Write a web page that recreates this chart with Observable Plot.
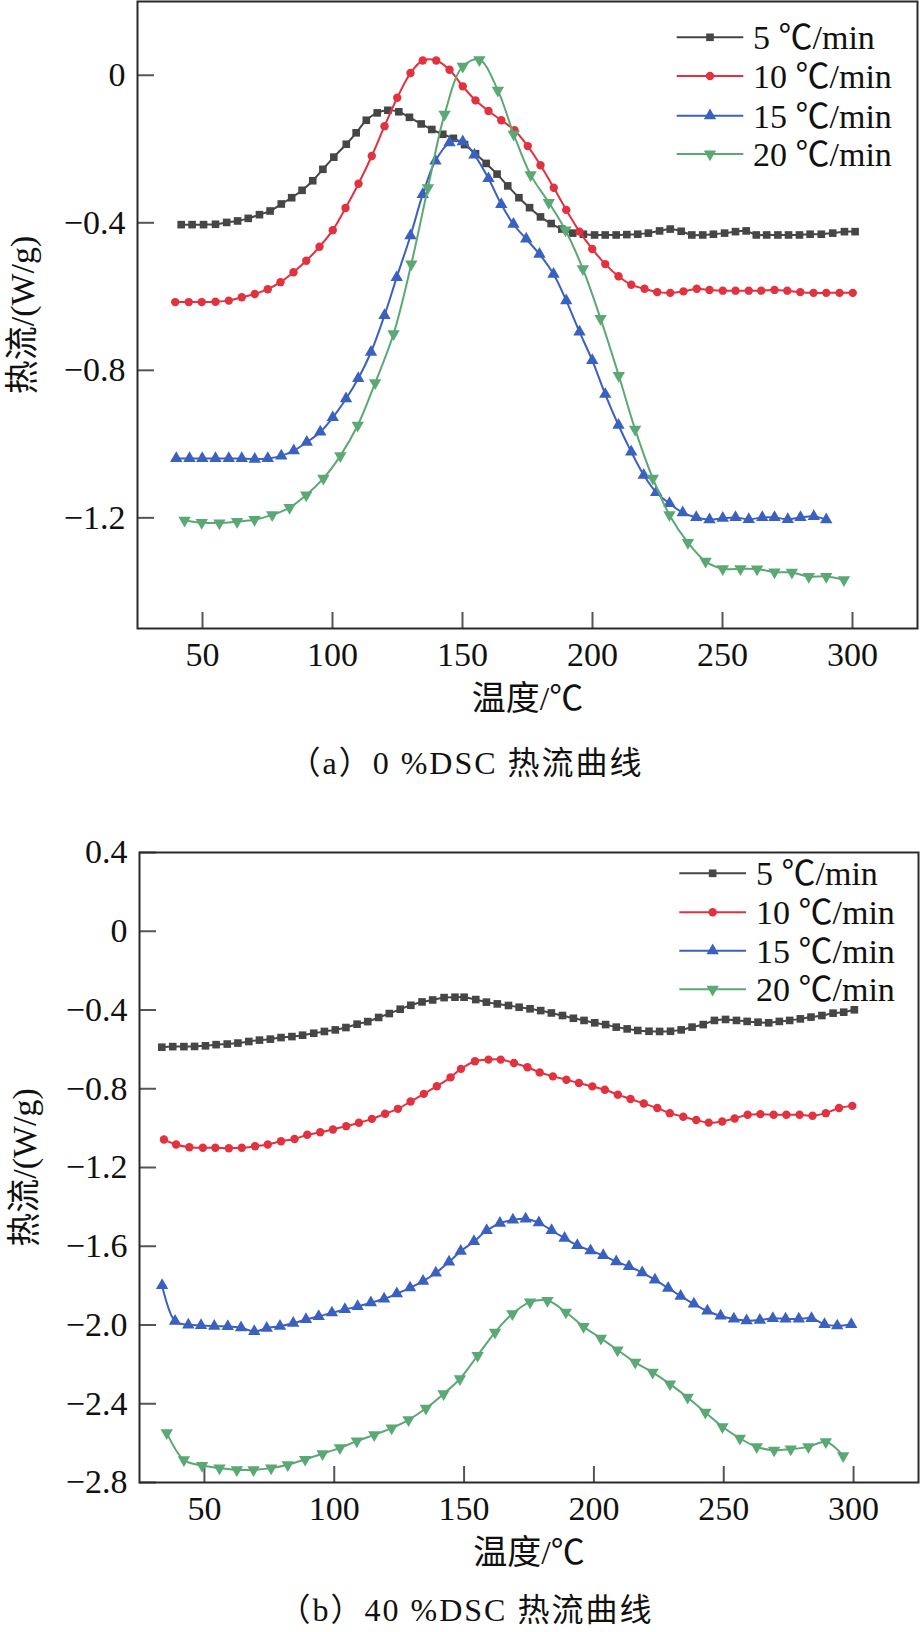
<!DOCTYPE html>
<html>
<head>
<meta charset="utf-8">
<script src="https://cdn.jsdelivr.net/npm/d3@7"></script>
<script src="https://cdn.jsdelivr.net/npm/@observablehq/plot@0.6"></script>
<style>
html, body { margin: 0; padding: 0; background: #fff; }
#page { position: relative; width: 920px; height: 1632px; overflow: hidden; background: #fff; }
.panel { position: absolute; left: 0; width: 920px; }
.caption { position: absolute; left: 0; width: 932px; text-align: center; font-family: "Liberation Serif", "Noto Sans CJK SC", serif; font-size: 32px; letter-spacing: 2px; color: #111; line-height: 40px; }
</style>
</head>
<body>
<div id="page"></div>
<script>
// ---------- shared labels / ticks ----------
const seriesNames = ["5 ℃/min", "10 ℃/min", "15 ℃/min", "20 ℃/min"];
const seriesColors = ["#464646", "#e2313f", "#3a60c0", "#5aa874"];
const xTicks = [50, 100, 150, 200, 250, 300];
const yTicksA = [0, -0.4, -0.8, -1.2];
const yTicksB = [0.4, 0, -0.4, -0.8, -1.2, -1.6, -2.0, -2.4, -2.8];
const xLabel = "温度/℃";
const yLabel = "热流/(W/g)";
const captionA = "（a）0 %DSC 热流曲线";
const captionB = "（b）40 %DSC 热流曲线";

// ---------- panel (a): 0 % ----------
const a5T = [41.8, 46.0, 50.4, 55.0, 59.3, 63.5, 67.6, 71.9, 76.0, 80.3, 84.3, 88.3, 92.4, 96.3, 100.5, 105.3, 109.1, 113.0, 117.2, 121.3, 125.5, 129.6, 134.1, 138.2, 142.4, 146.5,
  150.8, 155, 159.1, 163.3, 167.4, 171.7, 175.8, 180, 184.1, 188.2, 192.4, 196.5, 200.8, 204.9, 209.1, 213.2, 217.4, 221.5, 225.8, 229.9, 234.1, 238.2, 242.4, 246.5, 250.8, 255, 259.1, 263, 267, 271.3, 275.4, 279.6, 283.7, 288, 292.4, 296.9, 301];
const a5V = [-0.405, -0.405, -0.405, -0.404, -0.399, -0.395, -0.388, -0.378, -0.368, -0.349, -0.332, -0.312, -0.286, -0.255, -0.222, -0.187, -0.156, -0.122, -0.102, -0.095, -0.099, -0.114, -0.132, -0.147, -0.160, -0.171,
  -0.188, -0.213, -0.239, -0.268, -0.300, -0.332, -0.359, -0.384, -0.402, -0.417, -0.428, -0.431, -0.433, -0.433, -0.433, -0.432, -0.431, -0.428, -0.422, -0.417, -0.423, -0.433, -0.433, -0.431, -0.428, -0.424, -0.422, -0.433, -0.433, -0.433, -0.433, -0.433, -0.431, -0.431, -0.428, -0.424, -0.424];

const a10T = [39.5, 44.7, 49.7, 55, 60.1, 65.1, 70.1, 75.1, 80, 85, 89.9, 95, 100.1, 105, 110, 115.1, 120, 124.9, 130, 134.7, 139.9, 145,
  150.1, 155, 160, 164.9, 170, 175.1, 180, 185.1, 189.9, 195, 199.9, 204.9, 210, 214.9, 220, 224.9, 229.9, 235, 240.1, 245, 250.1, 255, 260.1, 264.9, 270, 274.9, 279.9, 285, 289.9, 295, 300.1];
const a10V = [-0.615, -0.615, -0.615, -0.614, -0.611, -0.602, -0.593, -0.580, -0.561, -0.534, -0.503, -0.465, -0.420, -0.360, -0.294, -0.219, -0.138, -0.061, 0.006, 0.040, 0.040, 0.015,
  -0.030, -0.068, -0.097, -0.122, -0.149, -0.192, -0.244, -0.305, -0.365, -0.424, -0.471, -0.512, -0.545, -0.568, -0.579, -0.588, -0.590, -0.586, -0.579, -0.582, -0.584, -0.584, -0.584, -0.584, -0.582, -0.584, -0.588, -0.590, -0.590, -0.590, -0.590];

const a15T = [39.9, 45, 49.9, 55, 60.1, 65.1, 70.1, 75.1, 80.3, 85.1, 90.1, 95.3, 100.1, 105.2, 109.9, 114.8, 120, 124.7, 130, 134.7, 139.6, 145, 150.1, 154.6, 160,
  164.9, 169.6, 174.5, 179.6, 185, 189.9, 195, 199.9, 204.9, 210, 214.9, 219.7, 224.5, 229.6, 234.7, 239.9, 245, 250.1, 255, 260.1, 265.3, 270, 275.1, 280, 285.1, 289.9];
const a15V = [-1.039, -1.039, -1.039, -1.039, -1.039, -1.039, -1.041, -1.039, -1.032, -1.018, -0.995, -0.967, -0.928, -0.877, -0.822, -0.751, -0.651, -0.548, -0.435, -0.323, -0.232, -0.183, -0.180, -0.216, -0.280,
  -0.350, -0.404, -0.444, -0.485, -0.539, -0.611, -0.696, -0.773, -0.865, -0.949, -1.021, -1.084, -1.131, -1.161, -1.186, -1.199, -1.205, -1.201, -1.199, -1.204, -1.199, -1.199, -1.204, -1.199, -1.196, -1.205];

const a20T = [43.1, 49.7, 56.5, 63.3, 70, 76.8, 83.5, 89.9, 96.5, 103, 109.7, 116.4, 123.5, 130.3, 136.7, 143.1, 150.1, 156.5, 163.6, 169.7,
  176.2, 183.2, 189.6, 196.3, 203.1, 210.1, 216.4, 223.2, 229.6, 236.7, 243.5, 250.1, 256.9, 263.3, 270, 276.7, 283.2, 289.9, 296.7];
const a20V = [-1.207, -1.213, -1.214, -1.210, -1.205, -1.192, -1.172, -1.138, -1.093, -1.032, -0.949, -0.834, -0.701, -0.512, -0.305, -0.106, 0.024, 0.042, -0.041, -0.160,
  -0.270, -0.345, -0.420, -0.525, -0.660, -0.814, -0.960, -1.093, -1.192, -1.267, -1.318, -1.338, -1.338, -1.339, -1.347, -1.348, -1.359, -1.359, -1.368];

// ---------- panel (b): 40 % ----------
const b5T = [33.6, 37.8, 42.1, 46.2, 50.4, 54.5, 58.8, 62.9, 67.1, 71.2, 75.4, 79.5, 83.7, 87.8, 92.1, 96.2, 100.4, 104.5, 108.8, 112.9, 117.1, 121.2, 125.4, 129.5, 133.8, 137.9, 142.3, 146.5,
  150, 154.5, 158.6, 162.8, 167.1, 171.2, 175.4, 179.5, 183.6, 187.9, 192.1, 196.2, 200.3, 204.5, 208.6, 212.8, 216.9, 221.2, 225.3, 229.5, 233.6, 237.8, 242.1, 246.4, 250.7, 254.9, 259, 263.2, 267.3, 271.4, 275.4, 279.5, 283.6, 287.8, 292.1, 296.2, 300.3];
const b5V = [-0.589, -0.586, -0.586, -0.585, -0.582, -0.576, -0.573, -0.568, -0.560, -0.553, -0.548, -0.540, -0.535, -0.528, -0.518, -0.509, -0.501, -0.489, -0.472, -0.459, -0.438, -0.418, -0.396, -0.376, -0.359, -0.349, -0.337, -0.335,
  -0.335, -0.347, -0.360, -0.369, -0.377, -0.386, -0.394, -0.403, -0.415, -0.428, -0.442, -0.453, -0.465, -0.474, -0.487, -0.496, -0.504, -0.508, -0.509, -0.508, -0.501, -0.487, -0.474, -0.453, -0.448, -0.453, -0.458, -0.462, -0.465, -0.458, -0.453, -0.445, -0.436, -0.428, -0.416, -0.411, -0.399];

const b10T = [34.4, 39.1, 44.2, 49.4, 54.2, 59.4, 64.4, 69.5, 74.4, 79.5, 84.7, 89.6, 94.6, 99.5, 104.6, 109.5, 114.5, 119.6, 124.5, 129.4, 134.5, 139.5, 144.8, 148.8,
  154.2, 159.4, 164.1, 169.2, 174.4, 179.1, 184.2, 189.4, 194.2, 199.4, 204.2, 209.2, 214.1, 219.2, 224.4, 229.2, 234.4, 239.4, 244.2, 249.4, 254.2, 259.2, 264.1, 269.2, 274.1, 279.2, 284.2, 289.3, 294.4, 299.5];
const b10V = [-1.058, -1.083, -1.097, -1.100, -1.100, -1.102, -1.100, -1.092, -1.083, -1.067, -1.055, -1.034, -1.021, -1.007, -0.990, -0.973, -0.953, -0.927, -0.902, -0.865, -0.826, -0.787, -0.742, -0.699,
  -0.660, -0.652, -0.652, -0.669, -0.691, -0.717, -0.737, -0.754, -0.771, -0.788, -0.805, -0.830, -0.852, -0.875, -0.898, -0.924, -0.942, -0.959, -0.972, -0.966, -0.951, -0.932, -0.929, -0.932, -0.932, -0.932, -0.937, -0.924, -0.898, -0.887];

const b15T = [33.7, 38.7, 43.8, 48.7, 53.8, 59, 64.1, 69.2, 74, 79.1, 84.2, 89.1, 94, 99.1, 104.1, 109, 114.1, 119.2, 124.1, 129.2, 134.2, 139.1, 144.2,
  148.7, 153.8, 158.7, 163.8, 168.8, 173.7, 178.8, 183.7, 188.7, 193.6, 198.7, 203.6, 208.6, 213.5, 218.6, 223.5, 228.6, 233.4, 238.5, 243.7, 248.8, 253.9, 258.8, 263.9, 268.9, 273.8, 278.9, 283.8, 288.8, 293.7, 299.1];
const b15V = [-1.799, -1.981, -1.999, -2.002, -2.006, -2.007, -2.014, -2.033, -2.016, -2.006, -1.991, -1.972, -1.956, -1.938, -1.921, -1.906, -1.887, -1.867, -1.841, -1.811, -1.777, -1.736, -1.680,
  -1.625, -1.576, -1.520, -1.483, -1.466, -1.461, -1.480, -1.520, -1.559, -1.596, -1.622, -1.647, -1.678, -1.703, -1.734, -1.771, -1.813, -1.853, -1.893, -1.929, -1.954, -1.969, -1.978, -1.975, -1.966, -1.969, -1.969, -1.966, -1.997, -2.004, -1.997];

const b20T = [35.5, 42.1, 49.1, 55.8, 62.5, 68.9, 75.7, 82.1, 88.8, 95.5, 102.2, 108.7, 115.4, 122.1, 128.6, 135.3, 142.1, 148.4,
  155.2, 161.9, 168.6, 175.4, 182.1, 189.2, 196, 202.7, 209.1, 215.9, 222.6, 229.3, 236.1, 242.9, 249.5, 256.2, 262.7, 269.4, 275.8, 282.6, 289.3, 296];
const b20V = [-2.548, -2.685, -2.714, -2.727, -2.736, -2.736, -2.727, -2.710, -2.683, -2.654, -2.624, -2.590, -2.558, -2.524, -2.482, -2.423, -2.350, -2.273,
  -2.155, -2.037, -1.943, -1.884, -1.876, -1.935, -2.008, -2.068, -2.127, -2.190, -2.241, -2.300, -2.368, -2.444, -2.517, -2.576, -2.619, -2.636, -2.630, -2.619, -2.593, -2.664];

// ---------- helpers ----------
const sqrt3 = Math.sqrt(3);
const symbolTriangleDown = {
  draw(context, size) {
    const y = -Math.sqrt(size / (sqrt3 * 3));
    context.moveTo(0, -y * 2);
    context.lineTo(-sqrt3 * y, y);
    context.lineTo(sqrt3 * y, y);
    context.closePath();
  }
};
const seriesSymbols = [d3.symbolSquare, d3.symbolCircle, d3.symbolTriangle, symbolTriangleDown];
const seriesR = [4.3, 4.2, 4.6, 4.6];

const toRows = (T, V) => T.map((t, i) => ({T: t, v: V[i]}));
const fmtY = d => d === 0 ? "0" : d3.format(".1f")(d);
const FONT = '"Liberation Serif", "Noto Sans CJK SC", serif';

function makePanel({series, yDomain, yTicks, width, height, mLeft, mRight, mTop, mBottom}) {
  const plotW = width - mLeft - mRight;
  const plotH = height - mTop - mBottom;
  const marks = [
    Plot.ruleX(xTicks, {x: d => d, insetTop: plotH - 16, stroke: "#555", strokeWidth: 2}),
    Plot.ruleY(yTicks, {y: d => d, insetRight: plotW - 17, stroke: "#555", strokeWidth: 2}),
    Plot.axisX({ticks: xTicks, tickSize: 0, tickPadding: 13, tickFormat: d => String(d), label: xLabel, labelAnchor: "center", labelOffset: 81, labelArrow: "none"}),
    Plot.axisY({ticks: yTicks, tickSize: 0, tickPadding: 12, tickFormat: fmtY, label: yLabel, labelAnchor: "center", labelOffset: 128, labelArrow: "none"})
  ];
  series.forEach(([T, V], i) => {
    const rows = toRows(T, V);
    marks.push(Plot.line(rows, {x: "T", y: "v", stroke: seriesColors[i], strokeWidth: 2, curve: "catmull-rom"}));
    marks.push(Plot.dot(rows, {x: "T", y: "v", fill: seriesColors[i], stroke: "none", symbol: seriesSymbols[i], r: seriesR[i]}));
  });
  marks.push(Plot.frame({stroke: "#2a2a2a", strokeWidth: 2}));
  return Plot.plot({
    width, height,
    marginLeft: mLeft, marginRight: mRight, marginTop: mTop, marginBottom: mBottom,
    x: {domain: [25, 325]},
    y: {domain: yDomain},
    style: {fontFamily: FONT, fontSize: "34px", background: "#fff", color: "#111", overflow: "visible"},
    marks
  });
}

function addLegend(page, left, top, rowYs, lineX0, lineX1, textX) {
  const svg = d3.select(page).append("svg")
    .style("position", "absolute").style("left", left + "px").style("top", top + "px")
    .attr("width", 250).attr("height", 180)
    .style("font-family", FONT).style("font-size", "34px");
  seriesNames.forEach((name, i) => {
    const y = rowYs[i];
    svg.append("line").attr("x1", lineX0).attr("x2", lineX1).attr("y1", y).attr("y2", y)
      .attr("stroke", seriesColors[i]).attr("stroke-width", 2);
    svg.append("path").attr("transform", `translate(${(lineX0 + lineX1) / 2},${y})`)
      .attr("d", d3.symbol(seriesSymbols[i], seriesR[i] * seriesR[i] * Math.PI)())
      .attr("fill", seriesColors[i]);
    svg.append("text").attr("x", textX).attr("y", y).attr("dy", "0.35em")
      .attr("fill", "#111").text(name);
  });
}

const page = document.getElementById("page");

// panel (a)
const divA = document.createElement("div");
divA.className = "panel"; divA.style.top = "0px";
divA.appendChild(makePanel({
  series: [[a5T, a5V], [a10T, a10V], [a15T, a15V], [a20T, a20V]],
  yDomain: [-1.5, 0.2], yTicks: yTicksA,
  width: 920, height: 740, mLeft: 137, mRight: 3, mTop: 1, mBottom: 112
}));
page.appendChild(divA);
addLegend(page, 670, 15, [22.3, 61, 100.7, 139], 6.7, 73.3, 83);
const capA = document.createElement("div");
capA.className = "caption"; capA.style.top = "743px"; capA.textContent = captionA;
page.appendChild(capA);

// panel (b)
const divB = document.createElement("div");
divB.className = "panel"; divB.style.top = "820px";
divB.appendChild(makePanel({
  series: [[b5T, b5V], [b10T, b10V], [b15T, b15V], [b20T, b20V]],
  yDomain: [-2.8, 0.4], yTicks: yTicksB,
  width: 920, height: 760, mLeft: 139, mRight: 2, mTop: 32, mBottom: 98
}));
page.appendChild(divB);
addLegend(page, 672, 840, [33.3, 72.3, 110.7, 149.3], 7.3, 74, 84);
const capB = document.createElement("div");
capB.className = "caption"; capB.style.top = "1590px"; capB.textContent = captionB;
page.appendChild(capB);
</script>
</body>
</html>
